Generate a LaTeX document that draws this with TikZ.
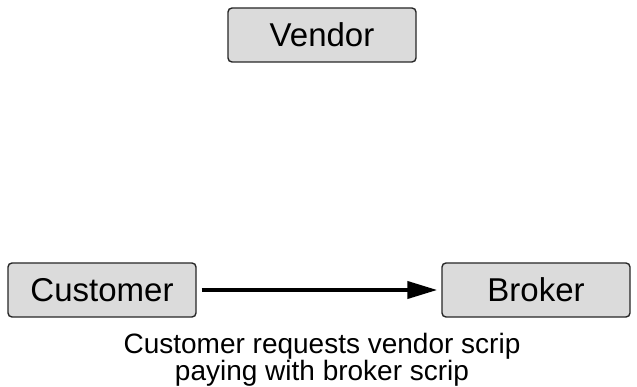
\documentclass[tikz,border=0pt]{standalone}
\usepackage{fontspec}
\setmainfont{Liberation Sans}
\usetikzlibrary{arrows.meta}
\begin{document}
\begin{tikzpicture}[x=1pt,y=-1pt,
  party/.style={draw=black!85, line width=1.4pt, fill=black!14, rounded corners=4pt,
    minimum width=188pt, minimum height=54pt, inner sep=0pt,
    font=\fontsize{33}{36}\selectfont},
  flow/.style={line width=4pt, -{Triangle[length=30pt,width=17pt]}},
  note/.style={align=center, font=\fontsize{28}{27}\selectfont}]
  \useasboundingbox (0,0) rectangle (637,387);
  \node[party] (vendor)   at (322,35)  {Vendor};
  \node[party] (customer) at (102,290) {Customer};
  \node[party] (broker)   at (536,290) {Broker};
  \draw[flow] ([xshift=5pt]customer.east) -- ([xshift=-4pt]broker.west);
  \node[note] (caption) at (322,360) {Customer requests vendor scrip\\paying with broker scrip};
\end{tikzpicture}
\end{document}
